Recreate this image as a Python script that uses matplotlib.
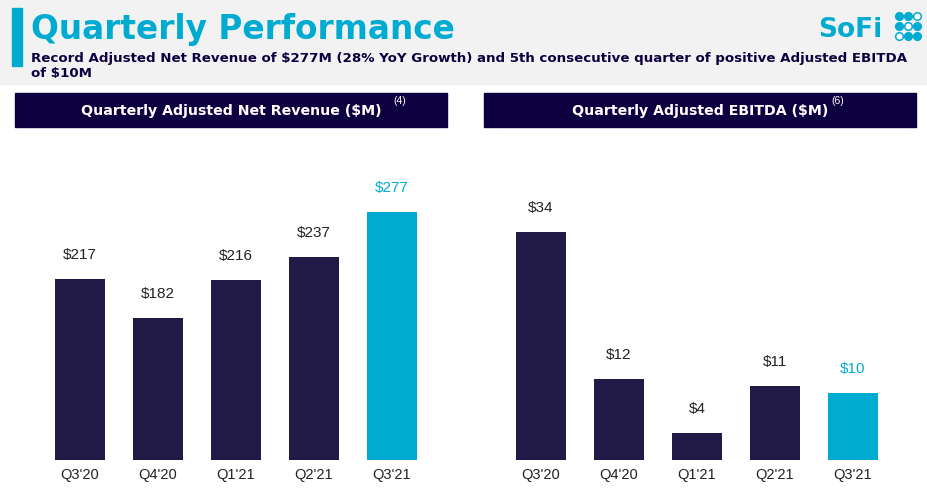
import numpy as np
import matplotlib.pyplot as plt
from matplotlib.patches import Rectangle

quarters = ["Q3'20", "Q4'20", "Q1'21", "Q2'21", "Q3'21"]
revenue = [217, 182, 216, 237, 277]
ebitda = [34, 12, 4, 11, 10]

NAVY = "#211a47"
BANNER = "#0e0040"
CYAN = "#00abd1"
W, H = 928, 492

plt.rcParams['font.family'] = ['Liberation Sans', 'DejaVu Sans']
fig = plt.figure(figsize=(W / 100, H / 100), dpi=100)
fig.patch.set_facecolor("white")


def box(x0, y0, x1, y1):
    # pixel box (top-left origin) -> figure fraction rect
    return [x0 / W, 1 - y1 / H, (x1 - x0) / W, (y1 - y0) / H]


def fx(x):
    return x / W


def fy(y):
    return 1 - y / H


# header band
fig.patches.append(Rectangle((0, fy(84)), 1, 84 / H, transform=fig.transFigure,
                             color="#f2f2f2", zorder=0))
fig.patches.append(Rectangle((fx(12), fy(66)), 10 / W, 58 / H, transform=fig.transFigure,
                             color=CYAN, zorder=1))
fig.text(fx(31), fy(39), "Quarterly Performance", color=CYAN, fontsize=23.6,
         fontweight='bold', family='DejaVu Sans', va='baseline')
fig.text(fx(31), fy(62), "Record Adjusted Net Revenue of $277M (28% YoY Growth) and 5th consecutive quarter of positive Adjusted EBITDA",
         color=BANNER, fontsize=9.6, fontweight='bold', family='DejaVu Sans', va='baseline')
fig.text(fx(31), fy(77), "of $10M", color=BANNER, fontsize=9.6, fontweight='bold',
         family='DejaVu Sans', va='baseline')

# logo
fig.text(fx(818), fy(37), "SoFi", color=CYAN, fontsize=19, fontweight='bold',
         family='DejaVu Sans', va='baseline')
lax = fig.add_axes(box(893, 10, 925, 42), zorder=5)
lax.set_xlim(0, 32)
lax.set_ylim(32, 0)
lax.axis('off')
pattern = [[1, 1, 0], [1, 0, 1], [0, 1, 1]]
for r, row in enumerate(pattern):
    for c, filled in enumerate(row):
        lax.scatter(6 + c * 9, 6 + r * 10, s=30,
                    facecolor=CYAN if filled else "white", edgecolor=CYAN, linewidth=1.1)

# banners
for (x0, x1), title, sup, sx in [((15, 447), "Quarterly Adjusted Net Revenue ($M)", "(4)", 400),
                                 ((484, 916), "Quarterly Adjusted EBITDA ($M)", "(6)", 838)]:
    fig.patches.append(Rectangle((fx(x0), fy(127)), (x1 - x0) / W, 34 / H,
                                 transform=fig.transFigure, color=BANNER, zorder=1))
    fig.text(fx((x0 + x1) / 2), fy(111), title, color="white", fontsize=10.2,
             fontweight='bold', family='DejaVu Sans', ha='center', va='center')
    fig.text(fx(sx), fy(101), sup, color="white", fontsize=7.5, ha='center', va='center')

colors = [NAVY] * 4 + [CYAN]


def draw(ax, values, ymin, ymax, offset):
    x = np.arange(len(values))
    ax.bar(x, values, width=0.64, color=colors, bottom=0)
    ax.set_xlim(-0.5, len(values) - 0.5)
    ax.set_ylim(ymin, ymax)
    for xi, v, c in zip(x, values, colors):
        ax.text(xi, v + offset, "$%d" % v, ha='center', va='center', fontsize=11,
                color=CYAN if c == CYAN else "#222222")
    ax.set_xticks(x)
    ax.set_xticklabels(quarters, fontsize=10.5, color="#222222")
    ax.tick_params(axis='x', length=0, pad=6)
    ax.set_yticks([])
    for s in ax.spines.values():
        s.set_visible(False)
    ax.patch.set_alpha(0)


ax1 = fig.add_axes(box(41, 140, 431, 460))
draw(ax1, revenue, 55, 55 + 320 / 1.117, 24 / 1.117)
ax2 = fig.add_axes(box(502, 140, 892, 460))
draw(ax2, ebitda, 0, 320 / 6.72, 24 / 6.72)

fig.savefig("out.png", dpi=100)
